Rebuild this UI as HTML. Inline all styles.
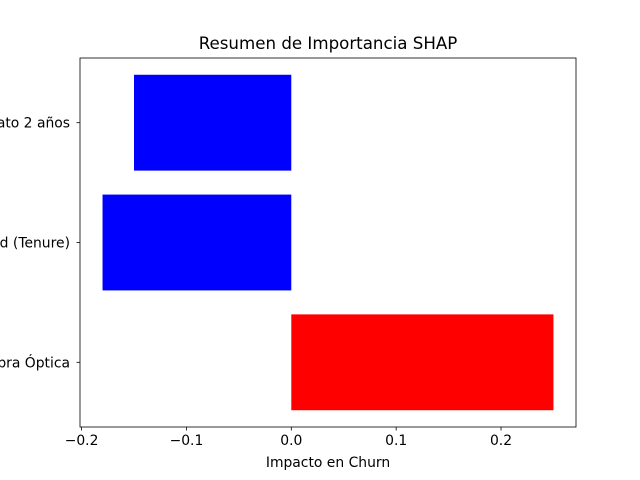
<!DOCTYPE html>
<html><head><meta charset="utf-8"><style>body{margin:0;background:#fff}svg{display:block;font-family:"DejaVu Sans","Liberation Sans",sans-serif}</style></head>
<body>
<svg id="chart" width="640" height="480" viewBox="0 0 640 480">
<rect width="640" height="480" fill="#fff"/>
<text x="328" y="49" font-size="16.67" text-anchor="middle">Resumen de Importancia SHAP</text>
<g id="bars"></g>
<g id="axes"></g>
<text x="328" y="467" font-size="13.9" text-anchor="middle">Impacto en Churn</text>
</svg>
<script>
const categories = ["Fibra Óptica", "Antigüedad (Tenure)", "Contrato 2 años"];
const values = [0.25, -0.18, -0.15];
const xTicks = [-0.2, -0.1, 0, 0.1, 0.2];
const xTickLabels = ["\u22120.2", "\u22120.1", "0.0", "0.1", "0.2"];

const L=80,R=576,T=58,B=427;
const mn=Math.min(0,...values), mx=Math.max(0,...values), pad=(mx-mn)*0.05;
const x0=mn-pad, x1=mx+pad;
const xs=v=>L+(v-x0)/(x1-x0)*(R-L);
const y0=-0.4-0.14, y1=categories.length-1+0.4+0.14;
const ys=v=>B-(v-y0)/(y1-y0)*(B-T);
const NS="http://www.w3.org/2000/svg";
function mk(tag,attrs,parent,text){const e=document.createElementNS(NS,tag);for(const k in attrs)e.setAttribute(k,attrs[k]);if(text!==undefined)e.textContent=text;parent.appendChild(e);return e;}
const gb=document.getElementById('bars'), ga=document.getElementById('axes');
values.forEach((v,i)=>{
  const a=xs(Math.min(0,v)), b=xs(Math.max(0,v));
  const r=mk('rect',{x:a,y:ys(i+0.4),width:b-a,height:ys(i-0.4)-ys(i+0.4),fill:v>0?'#ff0000':'#0000ff'},gb);
  
  
  mk('line',{x1:L,x2:L-3.5,y1:ys(i),y2:ys(i),stroke:'#000','stroke-width':0.8},ga);
  const t=mk('text',{x:L-10,y:ys(i)+5,'font-size':13.9,'text-anchor':'end'},ga,categories[i]);
  
  
});
xTicks.forEach((v,i)=>{
  mk('line',{x1:xs(v),x2:xs(v),y1:B,y2:B+3.5,stroke:'#000','stroke-width':0.8},ga);
  const t=mk('text',{x:xs(v),y:B+18,'font-size':13.9,'text-anchor':'middle'},ga,xTickLabels[i]);
  
  
});
const f=mk('rect',{x:L,y:T,width:R-L,height:B-T,fill:'none',stroke:'#000','stroke-width':0.8},ga);


</script>
</body></html>
